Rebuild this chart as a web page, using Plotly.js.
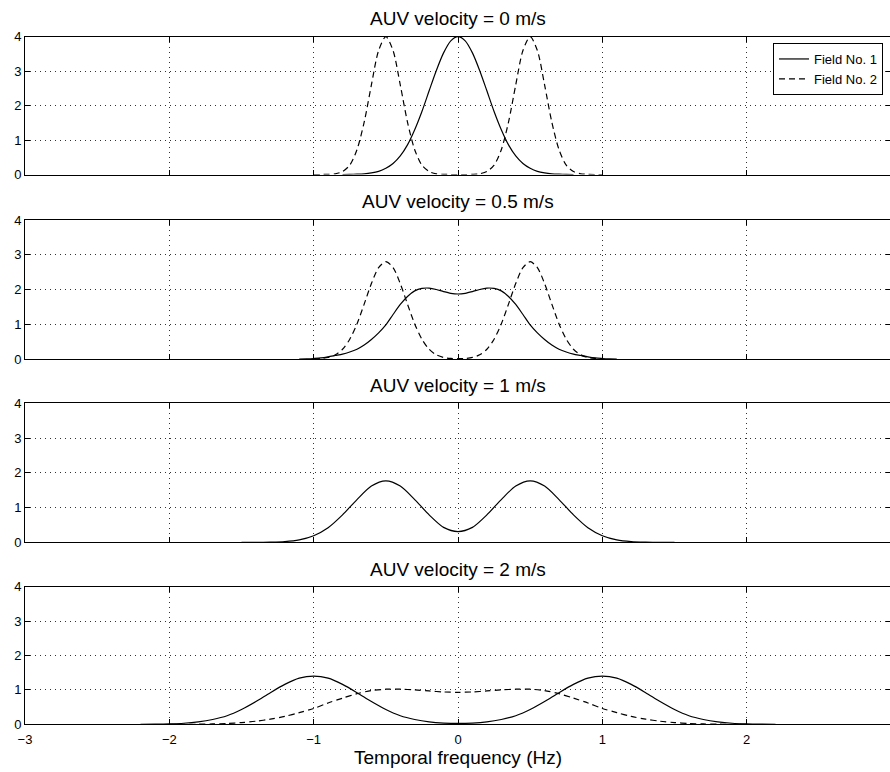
<!DOCTYPE html>
<html>
<head>
<meta charset="utf-8">
<script src="https://cdn.plot.ly/plotly-3.0.1.min.js"></script>
<style>
html, body { margin: 0; padding: 0; overflow: hidden; background: #fff; }
#chart { width: 892px; height: 772px; }
</style>
</head>
<body>
<div id="chart"></div>
<script>
// ---- Data ----
var panelTitles = ["AUV velocity = 0 m/s", "AUV velocity = 0.5 m/s", "AUV velocity = 1 m/s", "AUV velocity = 2 m/s"];
var seriesNames = ["Field No. 1", "Field No. 2"];
var xTickVals = [-3, -2, -1, 0, 1, 2, 3];
var yTickVals = [0, 1, 2, 3, 4];

// Panel 1 (0 m/s)
var v0_x1 = [-0.8,-0.75,-0.7,-0.65,-0.6,-0.55,-0.5,-0.45,-0.4,-0.35,-0.3,-0.25,-0.2,-0.15,-0.1,-0.05,0,0.05,0.1,0.15,0.2,0.25,0.3,0.35,0.4,0.45,0.5,0.55,0.6,0.65,0.7,0.75,0.8];
var v0_f1 = [0,0.004,0.01,0.02,0.045,0.09,0.18,0.32,0.54,0.86,1.30,1.83,2.43,3.02,3.53,3.88,4.00,3.88,3.53,3.02,2.43,1.83,1.30,0.86,0.54,0.32,0.18,0.09,0.045,0.02,0.01,0.004,0];
var v0_x2 = [-1.0,-0.95,-0.9,-0.85,-0.8,-0.75,-0.7,-0.65,-0.6,-0.55,-0.5,-0.45,-0.4,-0.35,-0.3,-0.25,-0.2,-0.15,-0.1,-0.05,0,0.05,0.1,0.15,0.2,0.25,0.3,0.35,0.4,0.45,0.5,0.55,0.6,0.65,0.7,0.75,0.8,0.85,0.9,0.95,1.0];
var v0_f2 = [0,0,0.004,0.02,0.085,0.27,0.72,1.52,2.6,3.6,4.0,3.6,2.6,1.52,0.72,0.27,0.085,0.02,0.004,0,0,0,0.004,0.02,0.085,0.27,0.72,1.52,2.6,3.6,4.0,3.6,2.6,1.52,0.72,0.27,0.085,0.02,0.004,0,0];

// Panel 2 (0.5 m/s)
var v05_x1 = [-1.1,-1.05,-1.0,-0.95,-0.9,-0.85,-0.8,-0.75,-0.7,-0.65,-0.6,-0.55,-0.5,-0.45,-0.4,-0.35,-0.3,-0.25,-0.2,-0.15,-0.1,-0.05,0,0.05,0.1,0.15,0.2,0.25,0.3,0.35,0.4,0.45,0.5,0.55,0.6,0.65,0.7,0.75,0.8,0.85,0.9,0.95,1.0,1.05,1.1];
var v05_f1 = [0,0.005,0.015,0.03,0.06,0.1,0.14,0.2,0.28,0.4,0.56,0.75,0.98,1.28,1.57,1.8,1.96,2.03,2.04,2.0,1.94,1.89,1.87,1.89,1.94,2.0,2.04,2.03,1.96,1.8,1.57,1.28,0.98,0.75,0.56,0.4,0.28,0.2,0.14,0.1,0.06,0.03,0.015,0.005,0];
var v05_x2 = v0_x2;
var v05_f2 = [0.005,0.016,0.045,0.12,0.28,0.57,1.01,1.58,2.17,2.63,2.8,2.63,2.17,1.58,1.01,0.57,0.28,0.12,0.045,0.016,0.01,0.016,0.045,0.12,0.28,0.57,1.01,1.58,2.17,2.63,2.8,2.63,2.17,1.58,1.01,0.57,0.28,0.12,0.045,0.016,0.005];

// Panel 3 (1 m/s)
var v1_x1 = [-1.5,-1.4,-1.3,-1.2,-1.1,-1.0,-0.9,-0.8,-0.7,-0.6,-0.5,-0.4,-0.3,-0.2,-0.1,0,0.1,0.2,0.3,0.4,0.5,0.6,0.7,0.8,0.9,1.0,1.1,1.2,1.3,1.4,1.5];
var v1_f1 = [0,0,0.005,0.02,0.07,0.19,0.42,0.79,1.23,1.62,1.77,1.62,1.23,0.79,0.43,0.31,0.43,0.79,1.23,1.62,1.77,1.62,1.23,0.79,0.42,0.19,0.07,0.02,0.005,0,0];

// Panel 4 (2 m/s)
var v2_x1 = [-2.2,-2.1,-2.0,-1.9,-1.8,-1.7,-1.6,-1.5,-1.4,-1.3,-1.2,-1.1,-1.0,-0.9,-0.8,-0.7,-0.6,-0.5,-0.4,-0.3,-0.2,-0.1,0,0.1,0.2,0.3,0.4,0.5,0.6,0.7,0.8,0.9,1.0,1.1,1.2,1.3,1.4,1.5,1.6,1.7,1.8,1.9,2.0,2.1,2.2];
var v2_f1 = [0,0.004,0.012,0.03,0.07,0.14,0.25,0.43,0.66,0.92,1.16,1.34,1.40,1.34,1.16,0.92,0.66,0.43,0.25,0.14,0.07,0.035,0.024,0.035,0.07,0.14,0.25,0.43,0.66,0.92,1.16,1.34,1.40,1.34,1.16,0.92,0.66,0.43,0.25,0.14,0.07,0.03,0.012,0.004,0];
var v2_x2 = [-2.0,-1.9,-1.8,-1.7,-1.6,-1.5,-1.4,-1.3,-1.2,-1.1,-1.0,-0.9,-0.8,-0.7,-0.6,-0.5,-0.4,-0.3,-0.2,-0.1,0,0.1,0.2,0.3,0.4,0.5,0.6,0.7,0.8,0.9,1.0,1.1,1.2,1.3,1.4,1.5,1.6,1.7,1.8,1.9,2.0];
var v2_f2 = [0,0,0.003,0.01,0.025,0.05,0.09,0.15,0.23,0.34,0.46,0.62,0.76,0.89,0.98,1.02,1.02,1.0,0.97,0.94,0.93,0.94,0.97,1.0,1.02,1.02,0.98,0.89,0.76,0.62,0.46,0.34,0.23,0.15,0.09,0.05,0.025,0.01,0.003,0,0];

// ---- Styling ----
var FONT = "Liberation Sans, Arial, Helvetica, sans-serif";
var solidLine = {color: "#000", width: 1.2, shape: "spline", smoothing: 0.8};
var dashLine = {color: "#000", width: 1.2, shape: "spline", smoothing: 0.8, dash: "6px,4px"};

function tr(x, y, axN, name, line, showLeg) {
  var s = axN === 1 ? "" : String(axN);
  return {x: x, y: y, type: "scatter", mode: "lines", name: name, line: line,
          xaxis: "x" + s, yaxis: "y" + s, showlegend: showLeg, hoverinfo: "skip"};
}

var data = [
  tr(v0_x1, v0_f1, 1, seriesNames[0], solidLine, true),
  tr(v0_x2, v0_f2, 1, seriesNames[1], dashLine, true),
  tr(v05_x1, v05_f1, 2, seriesNames[0], solidLine, false),
  tr(v05_x2, v05_f2, 2, seriesNames[1], dashLine, false),
  tr(v1_x1, v1_f1, 3, seriesNames[0], solidLine, false),
  tr(v2_x1, v2_f1, 4, seriesNames[0], solidLine, false),
  tr(v2_x2, v2_f2, 4, seriesNames[1], dashLine, false)
];

var H = 772;
var panelsPx = [[36.7, 174.5], [220, 359], [403.3, 542.3], [586.7, 724.3]];
var titlePx = [18.5, 201, 385, 569];

function xAx(i) {
  return {
    domain: [0, 1], anchor: i === 1 ? "y" : "y" + i, range: [-3, 3],
    tickvals: xTickVals, ticks: "inside", ticklen: 5, tickcolor: "#000",
    showline: true, linecolor: "#000", linewidth: 1, mirror: "ticks",
    showgrid: true, gridcolor: "#333", griddash: "1px,4px", gridwidth: 1,
    zeroline: false, showticklabels: i === 4, ticklabelstandoff: 3,
    tickfont: {family: FONT, size: 13, color: "#000"}, fixedrange: true
  };
}
function yAx(i, p) {
  return {
    domain: [1 - p[1] / H, 1 - p[0] / H], anchor: i === 1 ? "x" : "x" + i, range: [0, 4],
    tickvals: yTickVals, ticks: "inside", ticklen: 5, tickcolor: "#000",
    showline: true, linecolor: "#000", linewidth: 1, mirror: "ticks",
    showgrid: true, gridcolor: "#333", griddash: "1px,4px", gridwidth: 1,
    zeroline: false, tickfont: {family: FONT, size: 13, color: "#000"}, fixedrange: true
  };
}

var annotations = panelTitles.map(function (t, i) {
  return {text: t, xref: "paper", yref: "paper", x: 0.5, y: 1 - titlePx[i] / H,
          xanchor: "center", yanchor: "middle", showarrow: false,
          font: {family: FONT, size: 19, color: "#000"}};
});
annotations.push({text: "Temporal frequency (Hz)", xref: "paper", yref: "paper", x: 0.5, y: 1 - 757 / H,
                  xanchor: "center", yanchor: "middle", showarrow: false,
                  font: {family: FONT, size: 19, color: "#000"}});

var layout = {
  width: 892, height: H,
  margin: {l: 25, r: 1, t: 0, b: 0, pad: 0},
  paper_bgcolor: "#fff", plot_bgcolor: "#fff",
  font: {family: FONT, color: "#000"},
  showlegend: true,
  legend: {x: (883 - 25) / 866, xanchor: "right", y: 1 - 43 / H, yanchor: "top",
           bgcolor: "#fff", bordercolor: "#000", borderwidth: 1,
           font: {family: FONT, size: 13, color: "#000"}, itemwidth: 30,
           tracegroupgap: 0},
  annotations: annotations,
  xaxis: xAx(1), xaxis2: xAx(2), xaxis3: xAx(3), xaxis4: xAx(4),
  yaxis: yAx(1, panelsPx[0]), yaxis2: yAx(2, panelsPx[1]), yaxis3: yAx(3, panelsPx[2]), yaxis4: yAx(4, panelsPx[3])
};

Plotly.newPlot("chart", data, layout, {displayModeBar: false, staticPlot: true});
</script>
</body>
</html>
